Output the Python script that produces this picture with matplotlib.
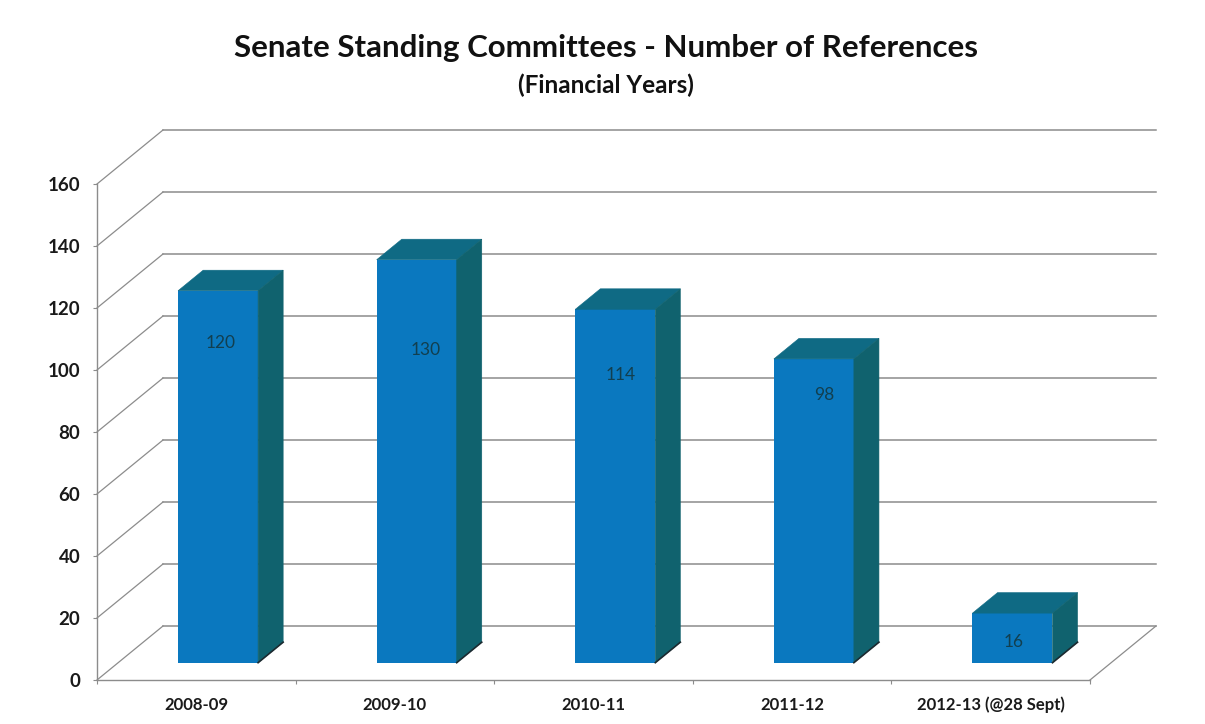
import matplotlib
matplotlib.use('Agg')
import matplotlib.pyplot as plt

categories = ['2008-09', '2009-10', '2010-11', '2011-12', '2012-13 (@28 Sept)']
references = [120, 130, 114, 98, 16]
y_ticks = [0, 20, 40, 60, 80, 100, 120, 140, 160]

# manual data label offsets from the bar top, in pixels (right, down)
label_dx = [3, 9, 5, 10, 1]
label_dy = [52, 90, 66, 36, 29]

plt.rcParams['font.family'] = ['Lato', 'DejaVu Sans']

W, H = 1205, 724
fig = plt.figure(figsize=(W / 100, H / 100), dpi=100)
ax = fig.add_axes([97 / W, (H - 680) / H, 993 / W, 496 / H])
ax.set_xlim(0, 5)
ax.set_ylim(0, 160)

# depth of the 3d box, in data units
depth_x = 66 / 198.6
depth_y = 54 / 3.1
bar_width = 80 / 198.6
near_x = 0.33
near_y = 0.32
far = 0.38

grid = '#8c8c8c'
front = '#0a78bf'
top = '#0f6a84'
side = '#10626e'

for v in y_ticks:
    ax.plot([0, depth_x], [v, v + depth_y], color=grid, lw=0.9, clip_on=False, zorder=1)
    ax.plot([depth_x, 5 + depth_x], [v + depth_y, v + depth_y], color=grid, lw=1.1, clip_on=False, zorder=1)
# right edge of the floor
ax.plot([5, 5 + depth_x], [0, depth_y], color=grid, lw=0.9, clip_on=False, zorder=1)

for i, v in enumerate(references):
    x0 = i + 0.5 - bar_width / 2 + near_x * depth_x
    x1 = x0 + bar_width
    base = near_y * depth_y
    ox = far * depth_x
    oy = far * depth_y
    t = v + base
    ax.fill([x0, x1, x1, x0], [base, base, t, t], color=front, lw=0, clip_on=False, zorder=3)
    ax.fill([x0, x1, x1 + ox, x0 + ox], [t, t, t + oy, t + oy], facecolor=top, edgecolor=top, lw=0.4, clip_on=False, zorder=3)
    ax.fill([x1, x1 + ox, x1 + ox, x1], [base, base + oy, t + oy, t], facecolor=side, edgecolor=side, lw=0.4, clip_on=False, zorder=3)
    ax.plot([x1, x1 + ox], [base, base + oy], color='#1c2a30', lw=1.2, clip_on=False, zorder=3)
    ax.annotate(str(v), (i + 0.5 + near_x * depth_x, t), xytext=(label_dx[i] * 0.72, -label_dy[i] * 0.72),
                textcoords='offset points', ha='center', va='center', fontsize=12.5,
                color='#123f4f', zorder=4)

for s in ['top', 'right']:
    ax.spines[s].set_visible(False)
for s in ['left', 'bottom']:
    ax.spines[s].set_color(grid)
    ax.spines[s].set_linewidth(1.0)

ax.set_yticks(y_ticks)
ax.set_xticks(range(6))
ax.set_xticklabels([])
ax.set_xticks([i + 0.5 for i in range(5)], minor=True)
ax.set_xticklabels(categories, minor=True, fontsize=12, fontweight='bold', color='#1a1a1a')
ax.tick_params(axis='x', which='major', length=3, color=grid, direction='out')
ax.tick_params(axis='x', which='minor', length=0, pad=12)
ax.tick_params(axis='y', length=3, color=grid, labelsize=13.5, labelcolor='#1a1a1a', pad=9)
for lab in ax.get_yticklabels():
    lab.set_fontweight('bold')

fig.text(606 / W, 1 - 48 / H, 'Senate Standing Committees - Number of References',
         ha='center', va='center', fontsize=22.5, fontweight='bold', color='#111111')
fig.text(606 / W, 1 - 85 / H, '(Financial Years)',
         ha='center', va='center', fontsize=17.5, fontweight='bold', color='#111111')

fig.savefig('out.png', dpi=100)
